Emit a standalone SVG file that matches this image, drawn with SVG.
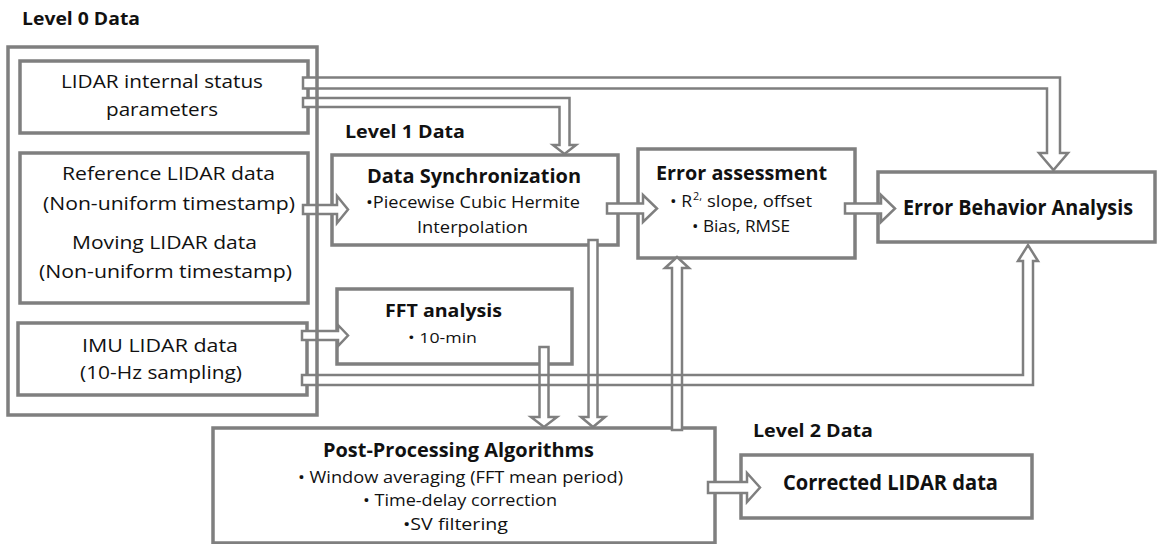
<svg xmlns="http://www.w3.org/2000/svg" xmlns:xlink="http://www.w3.org/1999/xlink" width="1157" height="544" viewBox="0 0 1157 544">
<style>
.box{fill:#fff;stroke:#7f7f7f;stroke-width:3.5}
.frame{fill:none;stroke:#7f7f7f;stroke-width:3.5}
.af{fill:#fff;stroke:none}
.al{fill:none;stroke:#7f7f7f;stroke-width:2.5;stroke-linejoin:miter}
text{font-family:"Open Sans","Liberation Sans",sans-serif;fill:#111}
.b{font-weight:bold}
.s14{font-size:14px}.s16{font-size:16px}.s17{font-size:17px}.s18{font-size:18px}.s19{font-size:19px}.s20{font-size:20px}.s21{font-size:21px}
</style>
<defs>
<path id="a1" d="M303,77.5 H1060 V153 H1068 L1053.5,170 L1039,153 H1047 V88.5 H303 Z"/>
<path id="a2" d="M303,98 H569.5 V145 H576 L564.5,154 L553,145 H559.5 V107 H303 Z"/>
<path id="a3" d="M303,205 H337 V196 L348,209.5 L337,223 V214 H303 Z"/>
<path id="a4" d="M607,203.5 H643 V195 L657,208.5 L643,222 V213.5 H607 Z"/>
<path id="a5" d="M845,203.5 H881 V195 L895,208.5 L881,222 V213.5 H845 Z"/>
<path id="a6" d="M302,331 H338 V325 L348,335.5 L338,346 V340 H302 Z"/>
<path id="a7" d="M302,375 H1023 V261 H1018 L1028,245 L1038,261 H1033 V385 H302 Z"/>
<path id="a8" d="M539.5,347 H548.5 V417 H557 L544,427 L531,417 H539.5 Z"/>
<path id="a9" d="M588.5,240 H597.5 V417 H605 L593,427 L581,417 H588.5 Z"/>
<path id="a10" d="M672,430 V268 H665 L677,257 L689,268 H682 V430 Z"/>
<path id="a11" d="M708,482 H747 V473 L760,487.5 L747,502 V493 H708 Z"/>
</defs>

<g id="status-params">
<rect class="box" x="20" y="61" width="288" height="72"/>
<text class="s18" x="61" y="88" textLength="202" lengthAdjust="spacingAndGlyphs">LIDAR internal status</text>
<text class="s18" x="106" y="116" textLength="112" lengthAdjust="spacingAndGlyphs">parameters</text>
</g>
<g id="lidar-data">
<rect class="box" x="20" y="153" width="288" height="150"/>
<text class="s18" x="62" y="180" textLength="213" lengthAdjust="spacingAndGlyphs">Reference LIDAR data</text>
<text class="s18" x="43" y="210" textLength="252" lengthAdjust="spacingAndGlyphs">(Non-uniform timestamp)</text>
<text class="s18" x="72" y="249" textLength="185" lengthAdjust="spacingAndGlyphs">Moving LIDAR data</text>
<text class="s18" x="39" y="278" textLength="253" lengthAdjust="spacingAndGlyphs">(Non-uniform timestamp)</text>
</g>
<g id="imu-data">
<rect class="box" x="18" y="323" width="289" height="72"/>
<text class="s18" x="82" y="352" textLength="156" lengthAdjust="spacingAndGlyphs">IMU LIDAR data</text>
<text class="s18" x="80" y="379" textLength="162" lengthAdjust="spacingAndGlyphs">(10-Hz sampling)</text>
</g>

<g id="level1-label">
<text class="b s17" x="345" y="138" textLength="120" lengthAdjust="spacingAndGlyphs">Level 1 Data</text>
</g>
<g id="data-sync">
<rect class="box" x="332" y="155" width="286" height="90"/>
<text class="b s20" x="367" y="183" textLength="214" lengthAdjust="spacingAndGlyphs">Data Synchronization</text>
<text class="s16" x="366" y="208" textLength="214" lengthAdjust="spacingAndGlyphs">•Piecewise Cubic Hermite</text>
<text class="s16" x="417" y="233" textLength="111" lengthAdjust="spacingAndGlyphs">Interpolation</text>
</g>
<g id="error-assessment">
<rect class="box" x="638" y="149" width="217" height="109"/>
<text class="b s19" x="656" y="180" textLength="171" lengthAdjust="spacingAndGlyphs">Error assessment</text>
<text class="s16" x="670" y="207" textLength="22" lengthAdjust="spacingAndGlyphs">• R</text>
<text style="font-size:10px" x="693" y="200" textLength="9" lengthAdjust="spacingAndGlyphs">2,</text>
<text class="s16" x="707" y="207" textLength="105" lengthAdjust="spacingAndGlyphs">slope, offset</text>
<text class="s16" x="692" y="232" textLength="98" lengthAdjust="spacingAndGlyphs">• Bias, RMSE</text>
</g>
<g id="error-behavior">
<rect class="box" x="878" y="172" width="277" height="70"/>
<text class="b s21" x="903" y="215" textLength="230" lengthAdjust="spacingAndGlyphs">Error Behavior Analysis</text>
</g>
<g id="fft">
<rect class="box" x="337" y="289" width="235" height="75"/>
<text class="b s18" x="385" y="317" textLength="117" lengthAdjust="spacingAndGlyphs">FFT analysis</text>
<text class="s14" x="408" y="343" textLength="69" lengthAdjust="spacingAndGlyphs">• 10-min</text>
</g>
<g id="post-processing">
<rect class="box" x="213" y="428" width="502" height="115"/>
<text class="b s19" x="323" y="457" textLength="271" lengthAdjust="spacingAndGlyphs">Post-Processing Algorithms</text>
<text class="s17" x="298" y="483" textLength="325" lengthAdjust="spacingAndGlyphs">•  Window averaging (FFT mean period)</text>
<text class="s17" x="363" y="506" textLength="194" lengthAdjust="spacingAndGlyphs">• Time-delay correction</text>
<text class="s17" x="403" y="530" textLength="105" lengthAdjust="spacingAndGlyphs">•SV filtering</text>
</g>
<g id="level2-label">
<text class="b s17" x="753" y="437" textLength="120" lengthAdjust="spacingAndGlyphs">Level 2 Data</text>
</g>
<g id="corrected">
<rect class="box" x="741" y="455" width="291" height="63"/>
<text class="b s21" x="783" y="490" textLength="215" lengthAdjust="spacingAndGlyphs">Corrected LIDAR data</text>
</g>

<g id="connectors">
<g id="connector-fills">
<use xlink:href="#a1" class="af"/><use xlink:href="#a2" class="af"/><use xlink:href="#a3" class="af"/>
<use xlink:href="#a4" class="af"/><use xlink:href="#a5" class="af"/><use xlink:href="#a6" class="af"/>
<use xlink:href="#a7" class="af"/><use xlink:href="#a8" class="af"/><use xlink:href="#a9" class="af"/>
<use xlink:href="#a10" class="af"/><use xlink:href="#a11" class="af"/>
</g>
<g id="connector-lines">
<use xlink:href="#a1" class="al"/><use xlink:href="#a2" class="al"/><use xlink:href="#a3" class="al"/>
<use xlink:href="#a4" class="al"/><use xlink:href="#a5" class="al"/><use xlink:href="#a6" class="al"/>
<use xlink:href="#a7" class="al"/><use xlink:href="#a8" class="al"/><use xlink:href="#a9" class="al"/>
<use xlink:href="#a10" class="al"/><use xlink:href="#a11" class="al"/>
</g>
</g>

<g id="level0">
<text class="b s17" x="22" y="25" textLength="118" lengthAdjust="spacingAndGlyphs">Level 0 Data</text>
<rect class="frame" x="8" y="47" width="309" height="368"/>
</g>
</svg>
